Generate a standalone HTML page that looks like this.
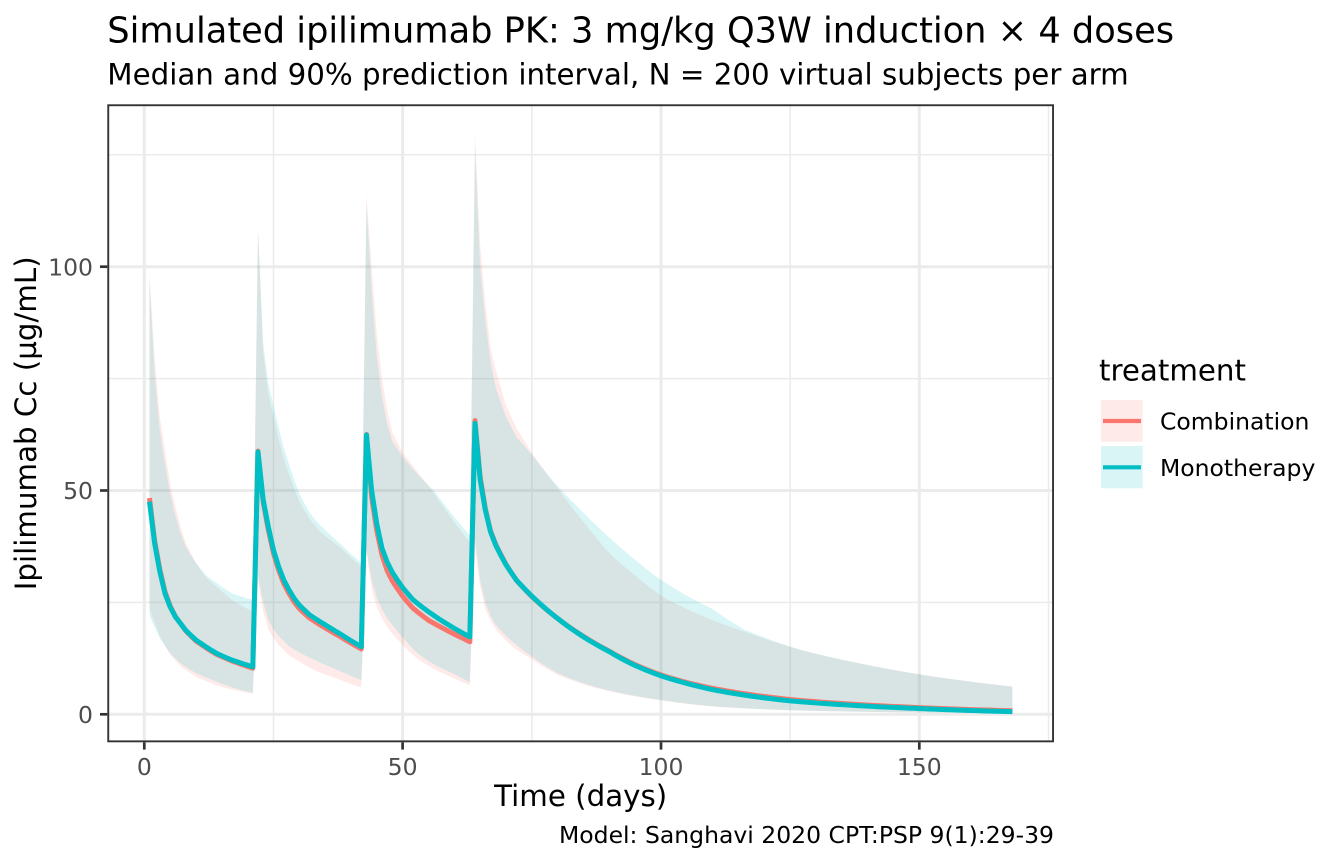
<!DOCTYPE html>
<html>
<head>
<meta charset="utf-8">
<style>
  html, body { margin:0; padding:0; background:#ffffff; }
  svg { display:block; }
  text { font-family: "DejaVu Sans", "Liberation Sans", sans-serif; }
</style>
</head>
<body>
<svg id="chart" xmlns="http://www.w3.org/2000/svg" width="1344" height="864" viewBox="0 0 1344 864">
  <rect x="0" y="0" width="1344" height="864" fill="#ffffff"/>
  <defs>
    <clipPath id="panelClip"><rect x="107.3" y="104.3" width="946.7" height="638"/></clipPath>
  </defs>

  <rect x="107.3" y="104.3" width="946.7" height="638" fill="#ffffff"/>

  <g stroke="#EBEBEB" stroke-width="1.5" fill="none">
    <line x1="107.3" x2="1054" y1="602.4" y2="602.4"/>
    <line x1="107.3" x2="1054" y1="378.6" y2="378.6"/>
    <line x1="107.3" x2="1054" y1="154.8" y2="154.8"/>
    <line y1="104.3" y2="742.3" x1="273.5" x2="273.5"/>
    <line y1="104.3" y2="742.3" x1="531.8" x2="531.8"/>
    <line y1="104.3" y2="742.3" x1="790.2" x2="790.2"/>
    <line y1="104.3" y2="742.3" x1="1048.5" x2="1048.5"/>
  </g>
  <g stroke="#EBEBEB" stroke-width="3" fill="none">
    <line x1="107.3" x2="1054" y1="714.3" y2="714.3"/>
    <line x1="107.3" x2="1054" y1="490.5" y2="490.5"/>
    <line x1="107.3" x2="1054" y1="266.7" y2="266.7"/>
    <line y1="104.3" y2="742.3" x1="144.3" x2="144.3"/>
    <line y1="104.3" y2="742.3" x1="402.6" x2="402.6"/>
    <line y1="104.3" y2="742.3" x1="661" x2="661"/>
    <line y1="104.3" y2="742.3" x1="919.3" x2="919.3"/>
  </g>

  <g clip-path="url(#panelClip)">
    <path id="ribC" fill="#F8766D" fill-opacity="0.15" stroke="none" d=""/>
    <path id="ribM" fill="#00BFC4" fill-opacity="0.15" stroke="none" d=""/>
    <path id="lineC" fill="none" stroke="#F8766D" stroke-width="5" stroke-linejoin="round" d=""/>
    <path id="lineM" fill="none" stroke="#00BFC4" stroke-width="5" stroke-linejoin="round" d=""/>
  </g>

  <rect x="108.25" y="105.25" width="944.8" height="636.1" fill="none" stroke="#333333" stroke-width="1.9"/>

  <g stroke="#333333" stroke-width="2.7">
    <line x1="100" x2="107.3" y1="714.3" y2="714.3"/>
    <line x1="100" x2="107.3" y1="490.5" y2="490.5"/>
    <line x1="100" x2="107.3" y1="266.7" y2="266.7"/>
    <line y1="742.3" y2="749.6" x1="144.3" x2="144.3"/>
    <line y1="742.3" y2="749.6" x1="402.6" x2="402.6"/>
    <line y1="742.3" y2="749.6" x1="661" x2="661"/>
    <line y1="742.3" y2="749.6" x1="919.3" x2="919.3"/>
  </g>

  <g font-size="23.5" fill="#4D4D4D">
    <text x="93" y="722.9" text-anchor="end">0</text>
    <text x="93" y="499.1" text-anchor="end">50</text>
    <text x="93" y="275.3" text-anchor="end">100</text>
    <text x="144.3" y="774.8" text-anchor="middle">0</text>
    <text x="402.6" y="774.8" text-anchor="middle">50</text>
    <text x="661" y="774.8" text-anchor="middle">100</text>
    <text x="919.3" y="774.8" text-anchor="middle">150</text>
  </g>

  <text x="580.7" y="806" font-size="29.3" text-anchor="middle" fill="#000000">Time (days)</text>
  <text transform="translate(36,423.3) rotate(-90)" font-size="29.3" text-anchor="middle" fill="#000000">Ipilimumab Cc (µg/mL)</text>

  <text x="107.3" y="42.7" font-size="35.2" fill="#000000">Simulated ipilimumab PK: 3 mg/kg Q3W induction × 4 doses</text>
  <text x="107.3" y="84.5" font-size="29.3" fill="#000000">Median and 90% prediction interval, N = 200 virtual subjects per arm</text>
  <text x="1054" y="843" font-size="23.5" text-anchor="end" fill="#000000">Model: Sanghavi 2020 CPT:PSP 9(1):29-39</text>

  <text x="1099" y="380.7" font-size="29.3" fill="#000000">treatment</text>
  <rect x="1101" y="400" width="41.7" height="41.7" fill="#ffffff"/>
  <rect x="1101" y="400" width="41.7" height="41.7" fill="#F8766D" fill-opacity="0.15"/>
  <line x1="1103" x2="1141" y1="421" y2="421" stroke="#F8766D" stroke-width="4.2"/>
  <rect x="1101" y="446" width="41.7" height="42.3" fill="#ffffff"/>
  <rect x="1101" y="446" width="41.7" height="42.3" fill="#00BFC4" fill-opacity="0.15"/>
  <line x1="1103" x2="1141" y1="467.3" y2="467.3" stroke="#00BFC4" stroke-width="4.2"/>
  <text x="1160" y="429.6" font-size="23.5" fill="#000000">Combination</text>
  <text x="1160" y="475.9" font-size="23.5" fill="#000000">Monotherapy</text>
</svg>

<script>
(function(){
  function X(d){ return 144.3 + 5.167*d; }
  function Y(v){ return 714.3 - 4.476*v; }
  function toPairs(a){ var r=[]; for(var i=0;i<a.length;i+=2) r.push([a[i],a[i+1]]); return r; }
  function interp(flat){
    var k = toPairs(flat), out=[];
    for (var d=1; d<=168; d++){
      var j=0;
      while (j < k.length-2 && k[j+1][0] < d) j++;
      var d0=k[j][0], v0=k[j][1], d1=k[j+1][0], v1=k[j+1][1];
      var v;
      if (d<=d0) v=v0; else if (d>=d1) v=v1;
      else {
        var t=(d-d0)/(d1-d0);
        v=Math.exp(Math.log(v0)+t*(Math.log(v1)-Math.log(v0)));
      }
      out.push([d,v]);
    }
    return out;
  }
  function linePath(pts){
    var s='';
    for (var i=0;i<pts.length;i++){
      s += (i?'L':'M') + X(pts[i][0]).toFixed(2) + ',' + Y(pts[i][1]).toFixed(2);
    }
    return s;
  }
  function ribbonPath(up, lo){
    var s=linePath(up);
    for (var i=lo.length-1;i>=0;i--){
      s += 'L' + X(lo[i][0]).toFixed(2) + ',' + Y(lo[i][1]).toFixed(2);
    }
    return s+'Z';
  }

  var MM=[1,47.5,2,38.2,3,31.9,4,27.0,5,24.0,6,21.8,7,20.3,8,18.8,10,16.6,14,13.6,17,12.1,21,10.6,
          22,58.6,23,48,24,41.9,25,36.7,26,33,27,30,28,27.8,29,25.9,30,24.4,32,22.2,35,20,38,17.9,42,15.1,
          43,62.4,44,50,45,42.5,46,37.1,47,34,48,31.7,50,28.3,52,25.6,55,22.9,58,20.6,62,17.9,63,17.3,
          64,65.0,65,52.4,66,45.6,67,40.8,68,37.8,70,33.4,72,30,75,26.4,80,21.4,85,17.3,90,14.0,95,10.9,100,8.6,105,6.9,110,5.5,125,3.0,150,1.3,168,0.6];
  var CM=[1,48.3,2,38.8,3,32.4,4,27.4,5,24.2,6,21.9,7,20.3,8,18.7,10,16.4,14,13.4,17,11.9,21,10.3,
          22,58.8,23,47.5,24,41.2,25,36,26,32.2,27,29.2,28,27,29,25.1,30,23.6,32,21.5,35,19.3,38,17.3,42,14.6,
          43,62.5,44,48.5,45,41,46,35.6,47,32.1,48,29.8,50,26.4,52,23.7,55,21,58,19.1,62,16.8,63,16.2,
          64,65.6,65,53,66,46,67,41,68,38,70,33.5,72,30,75,26.3,80,21.4,85,17.4,90,14.1,95,11.1,100,8.8,105,7.1,110,5.8,125,3.3,150,1.5,168,0.8];
  var MU=[1,97,2,76,3,63.5,4,56,5,49.4,6,44.5,7,40.5,8,37.5,10,33.8,12,31,14,29.3,17,27,21,25.5,
          22,108,23,83,24,74,25,69,27,59.5,29,52.5,30,49.3,32,45,34,42.3,38,38,42,33.8,
          43,114,44,95,45,80,46,71,47,65,48,61,50,57.5,53,53.5,56,50,59,45.5,63,40,
          64,127,65,100,66,88,67,79,68,73,70,66.5,72,62,75,58,80,51,85,45,90,39.5,95,34.5,100,30,105,26.5,110,23.5,116,19,127,14.4,140,11,153,8.4,168,6.2];
  var CU=[1,98.5,2,80,3,66.5,4,59,5,51.6,6,46.5,7,42,8,38.5,10,33.8,12,30.5,14,28.5,17,25.5,21,22.9,
          22,109,23,81,24,71.5,25,66.5,27,57,29,50.5,30,47.6,32,43.6,34,40.8,38,37.2,42,33,
          43,116,44,100,45,85,46,75,47,68,48,63,50,58.5,53,54,56,49.5,59,44.5,63,38.5,
          64,129.5,65,105,66,92,67,82,68,77,70,69,72,64,75,58.5,80,50.5,85,43,90,36,95,31,100,26.5,105,23.5,110,21,116,18.5,127,14.4,140,11,153,8.4,168,6.2];
  var ML=[1,22,2,19.5,3,17,4,15.3,5,13.7,7,11.4,10,9.2,14,7.3,17,6,21,4.8,
          22,31,23,25,24,21,25,19,26,17.5,28,15.2,30,13.8,33,12.1,36,10.6,39,9.1,42,7.6,
          43,37,44,30,45,26,46,23.5,47,21.5,50,17.2,53,13.5,56,11.2,60,9,63,7.2,
          64,39,65,30,66,25,67,22,68,20,70,17.5,72,15.5,75,12.9,80,9.2,87,6.2,100,3.2,111,1.7,125,0.9,150,0.4,168,0.25];
  var CL=[1,23.5,2,20.5,3,17.5,4,15.3,5,13.3,7,10.8,10,8.4,14,6.5,17,5.5,21,4.6,
          22,30,23,23,24,19,25,17,26,15.5,28,13.2,30,11.8,33,9.8,36,8.5,39,7.2,42,6.0,
          43,36,44,28,45,24,46,21.5,47,19.5,50,15.5,53,12.3,56,10.2,60,8,63,6.5,
          64,37,65,28.5,66,23.5,67,21,68,19,70,16.5,72,14.5,75,12.3,80,8.8,87,6,100,3.1,111,1.65,125,0.9,150,0.4,168,0.25];

  document.getElementById('ribC').setAttribute('d', ribbonPath(interp(CU), interp(CL)));
  document.getElementById('ribM').setAttribute('d', ribbonPath(interp(MU), interp(ML)));
  document.getElementById('lineC').setAttribute('d', linePath(interp(CM)));
  document.getElementById('lineM').setAttribute('d', linePath(interp(MM)));
})();
</script>
</body>
</html>
